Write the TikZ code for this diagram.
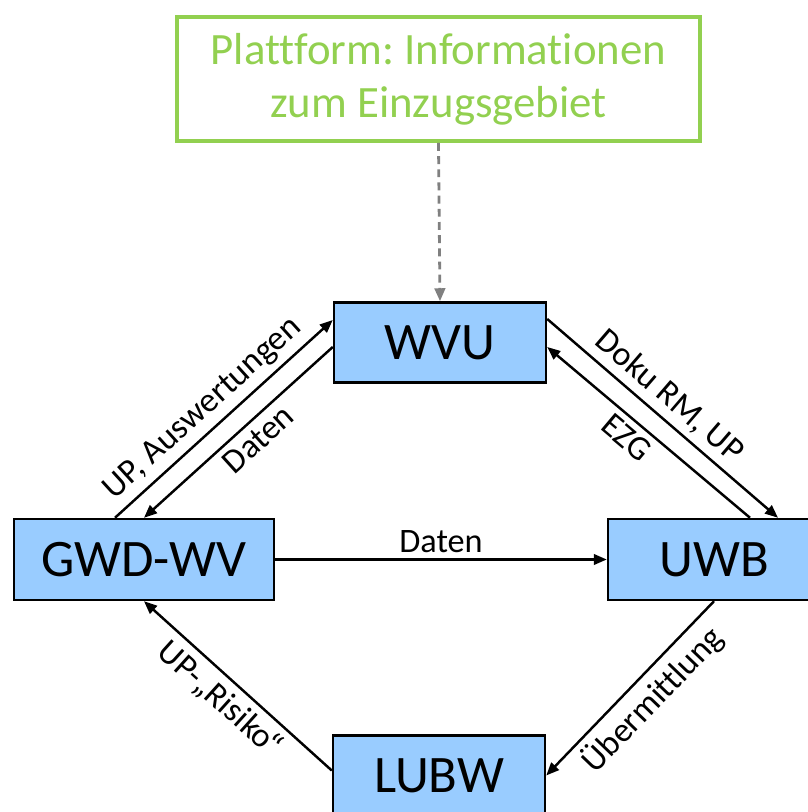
\documentclass[tikz,border=0pt]{standalone}
\usepackage{fontspec}
\setmainfont[Ligatures=NoCommon]{Carlito}
\frenchspacing
\usetikzlibrary{arrows.meta, positioning}
\definecolor{boxblue}{RGB}{153, 204, 255}
\definecolor{platgreen}{RGB}{146, 208, 80}
\definecolor{linkgray}{RGB}{128, 128, 128}

\begin{document}
\begin{tikzpicture}[
  actor/.style={draw, line width=1.4pt, fill=boxblue, minimum width=4.24cm,
    minimum height=1.6cm, font=\fontsize{30}{36}\selectfont},
  platform/.style={draw=platgreen, line width=2.2pt, text=platgreen,
    minimum width=10.46cm, minimum height=2.48cm, align=center,
    font=\fontsize{25.5}{30}\selectfont},
  arr/.style={-{Triangle[length=2.6mm, width=2.1mm]}, line width=1.4pt},
  lbl/.style={sloped, font=\fontsize{19.5}{23}\selectfont}
]
\path[use as bounding box, clip] (0,0) rectangle (16.16,16.24);

\node[platform] (plat) at (8.77,14.66) {Plattform: Informationen\\zum Einzugsgebiet};
\node[actor] (wvu) at (8.8,9.39) {WVU};
\node[actor, minimum width=5.2cm, minimum height=1.62cm] (gwd) at (2.88,5.05) {GWD-WV};
\node[actor, minimum height=1.62cm] (uwb) at (14.28,5.05) {UWB};
\node[actor] (lubw) at (8.78,0.73) {LUBW};

\draw[arr, linkgray, line width=1.6pt, dash pattern=on 4.5pt off 3pt]
  (plat.south) -- (wvu.north);

\draw[arr] ([xshift=-0.58cm]gwd.north) -- node[lbl, above, pos=0.47]
  {UP, Auswertungen} ([yshift=0.45cm]wvu.west);
\draw[arr] ([yshift=-0.09cm]wvu.west) -- node[lbl, below, pos=0.46]
  {Daten} (gwd.north);
\draw[arr] ([yshift=0.47cm]wvu.east) -- node[lbl, above, pos=0.47]
  {Doku RM, UP} ([xshift=1.28cm]uwb.north);
\draw[arr] ([xshift=0.72cm]uwb.north) -- node[lbl, below, pos=0.55]
  {EZG} ([yshift=-0.09cm]wvu.east);
\draw[arr] (gwd.east) -- node[lbl, above] {Daten} (uwb.west);
\draw[arr] (uwb.south) -- node[lbl, below, pos=0.47]
  {Übermittlung} (lubw.east);
\draw[arr] ([yshift=0.1cm]lubw.west) -- node[lbl, below, pos=0.52]
  {UP-„Risiko\kern-0.12em“} (gwd.south);
\end{tikzpicture}
\end{document}
